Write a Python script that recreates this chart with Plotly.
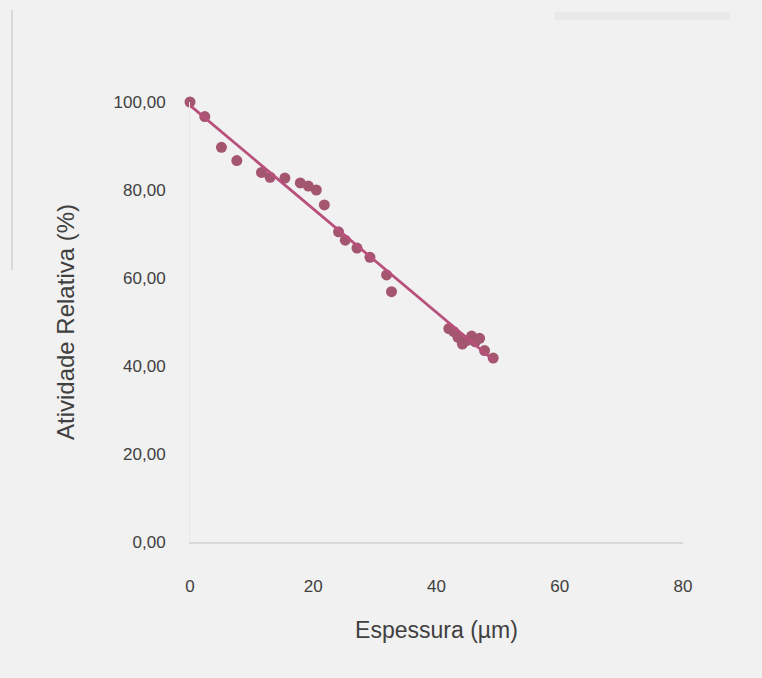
import numpy as np
import plotly.graph_objects as go

# Data
espessura = [0.0, 2.4, 5.1, 7.6, 11.6, 13.0, 15.4, 17.9, 19.2, 20.5, 21.8,
             24.1, 25.2, 27.1, 29.2, 31.9, 32.7,
             42.0, 42.8, 43.5, 44.2, 45.0, 45.7, 46.3, 47.0, 47.8, 49.2]
atividade = [100.0, 96.7, 89.7, 86.7, 84.0, 82.9, 82.7, 81.6, 80.9, 80.0, 76.6,
             70.5, 68.6, 66.8, 64.7, 60.7, 56.9,
             48.5, 47.8, 46.5, 45.0, 45.8, 46.8, 45.5, 46.3, 43.5, 41.8]
x_ticks = [0, 20, 40, 60, 80]
y_ticks = [0, 20, 40, 60, 80, 100]

# Linear trendline from the data
slope, intercept = np.polyfit(espessura, atividade, 1)
x_fit = [min(espessura), max(espessura)]
y_fit = [intercept + slope * v for v in x_fit]

fig = go.Figure()
fig.add_trace(go.Scatter(
    x=espessura, y=atividade, mode="markers",
    marker=dict(color="#a4566f", size=11, line=dict(width=0)),
    cliponaxis=False, showlegend=False,
))
fig.add_trace(go.Scatter(
    x=x_fit, y=y_fit, mode="lines",
    line=dict(color="#b9507c", width=2.8),
    cliponaxis=False, showlegend=False,
))

fig.update_layout(
    width=762, height=678,
    margin=dict(l=190, r=79, t=102, b=136),
    paper_bgcolor="#f1f1f1", plot_bgcolor="#f1f1f1",
    separators=",.",
    font=dict(family="Liberation Sans, Arial, sans-serif", color="#404040", size=17),
    xaxis=dict(
        range=[0, 80], tickvals=x_ticks, showgrid=False, zeroline=False,
        showline=True, linecolor="#d9d9d9", linewidth=2,
        ticks="", ticklabelstandoff=28,
        title=dict(text="Espessura (µm)", font=dict(size=23, color="#404040"), standoff=26),
    ),
    yaxis=dict(
        range=[0, 100], tickvals=y_ticks, tickformat=".2f", showgrid=False,
        zeroline=False, showline=True, linecolor="#e8e8e8", linewidth=1,
        ticks="", ticklabelstandoff=20,
        title=dict(text="Atividade Relativa (%)", font=dict(size=24, color="#404040"), standoff=32),
    ),
    shapes=[
        dict(type="line", xref="paper", yref="paper", x0=-0.361, x1=-0.361, y0=0.618, y1=1.209,
             line=dict(color="#d0d0d0", width=1.5)),
        dict(type="rect", xref="paper", yref="paper", x0=0.74, x1=1.095, y0=1.186, y1=1.2045,
             line=dict(width=0), fillcolor="#e9e9e9"),
    ],
)

fig.write_html("out.html", config={"displayModeBar": False},
               post_script="document.body.style.margin='0';")
